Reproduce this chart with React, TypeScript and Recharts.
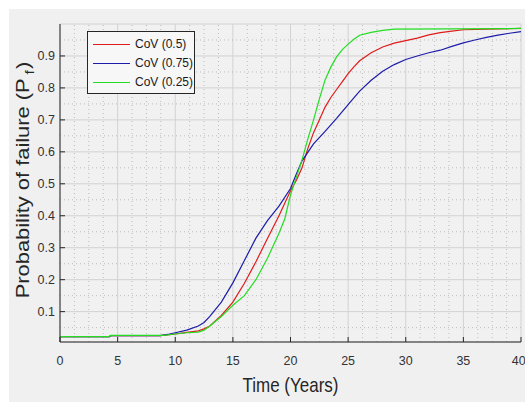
import React from 'react';
import { LineChart, Line, XAxis, YAxis, CartesianGrid, ReferenceLine, Legend } from 'recharts';

// Time (years) and probability of failure for each CoV series
const timeRed = [0, 4.3, 4.4, 8.7, 9.5, 10, 11, 12, 12.5, 13, 14, 15, 16, 17, 18, 19, 20, 20.5, 21, 21.5, 22, 22.5, 23, 23.5, 24, 24.5, 25, 25.5, 26, 27, 28, 29, 30, 31, 32, 33, 34, 35, 40];
const pfRed = [0.022, 0.022, 0.025, 0.025, 0.028, 0.03, 0.035, 0.04, 0.046, 0.055, 0.088, 0.13, 0.189, 0.256, 0.329, 0.4, 0.478, 0.51, 0.55, 0.61, 0.66, 0.7, 0.74, 0.77, 0.795, 0.82, 0.845, 0.866, 0.885, 0.91, 0.928, 0.94, 0.948, 0.956, 0.966, 0.973, 0.978, 0.982, 0.986];

const timeBlue = [0, 4.3, 4.4, 8.7, 9.5, 10, 11, 12, 12.5, 13, 14, 15, 16, 17, 18, 19, 20, 20.5, 21, 22, 23, 24, 25, 26, 27, 28, 29, 30, 31, 32, 33, 34, 35, 36, 37, 38, 39, 40];
const pfBlue = [0.022, 0.022, 0.025, 0.025, 0.03, 0.034, 0.042, 0.055, 0.066, 0.085, 0.13, 0.19, 0.26, 0.33, 0.385, 0.43, 0.485, 0.53, 0.572, 0.625, 0.664, 0.705, 0.748, 0.79, 0.824, 0.852, 0.873, 0.889, 0.9, 0.91, 0.918, 0.93, 0.941, 0.95, 0.958, 0.965, 0.971, 0.976];

const timeGreen = [0, 4.3, 4.4, 9, 10, 11, 12, 12.5, 13, 14, 15, 16, 17, 18, 19, 19.5, 20, 20.5, 21, 21.5, 22, 22.5, 23, 23.5, 24, 24.5, 25, 25.5, 26, 27, 28, 29, 40];
const pfGreen = [0.022, 0.022, 0.026, 0.026, 0.03, 0.034, 0.036, 0.042, 0.055, 0.085, 0.12, 0.15, 0.2, 0.267, 0.345, 0.39, 0.465, 0.52, 0.575, 0.64, 0.7, 0.765, 0.825, 0.865, 0.897, 0.92, 0.937, 0.952, 0.965, 0.974, 0.98, 0.984, 0.986];

const seriesNames = ['CoV (0.5)', 'CoV (0.75)', 'CoV (0.25)'];
const seriesColors = ['#e01b1b', '#1c1caa', '#22dd22'];

const xTicks = [0, 5, 10, 15, 20, 25, 30, 35, 40];
const yTicks = [0.1, 0.2, 0.3, 0.4, 0.5, 0.6, 0.7, 0.8, 0.9];
const xMinor = [1.25, 2.5, 3.75, 6.25, 7.5, 8.75, 11.25, 12.5, 13.75, 16.25, 17.5, 18.75, 21.25, 22.5, 23.75, 26.25, 27.5, 28.75, 31.25, 32.5, 33.75, 36.25, 37.5, 38.75];
const yMinor = [0.05, 0.15, 0.25, 0.35, 0.45, 0.55, 0.65, 0.75, 0.85, 0.95];

const toRows = (t: number[], v: number[]) => t.map((x, i) => ({ t: x, pf: v[i] }));
const rowsRed = toRows(timeRed, pfRed);
const rowsBlue = toRows(timeBlue, pfBlue);
const rowsGreen = toRows(timeGreen, pfGreen);

const FONT = 'Liberation Sans, Arial, Helvetica, sans-serif';
const AXIS = '#262626';

const YTitle = (props: any) => {
  const vb = props.viewBox || { x: 0, y: 15, width: 51, height: 318 };
  const cx = 20;
  const cy = vb.y + vb.height / 2 - 3;
  return (
    <g transform={`translate(${cx}, ${cy}) rotate(-90) scale(1.25, 1)`}>
      <text x={0} y={0} textAnchor="middle" fontFamily={FONT} fontSize={17.5} fill={AXIS}>
        Probability of failure (P
        <tspan fontSize={12.5} dx={3} dy={5}>f</tspan>
        <tspan dx={1} dy={-5}>)</tspan>
      </text>
    </g>
  );
};

const XTitle = (props: any) => {
  const vb = props.viewBox || { x: 51, y: 333, width: 461, height: 60 };
  const cx = vb.x + vb.width / 2;
  const cy = 382.5;
  return (
    <g transform={`translate(${cx}, ${cy}) scale(1, 1.22)`}>
      <text x={0} y={0} textAnchor="middle" fontFamily={FONT} fontSize={17} fill={AXIS}>
        Time (Years)
      </text>
    </g>
  );
};

const LegendBox = () => (
  <div
    style={{
      width: 108,
      height: 63,
      boxSizing: 'border-box',
      border: '1px solid #262626',
      background: '#f7f7f7',
      paddingTop: 3,
      fontFamily: FONT,
      fontSize: 12,
      color: '#1a1a1a',
    }}
  >
    {seriesNames.map((name, i) => (
      <div key={name} style={{ display: 'flex', alignItems: 'center', height: 19 }}>
        <svg width={46} height={19} style={{ display: 'block' }}>
          <line x1={5} x2={42} y1={9.5} y2={9.5} stroke={seriesColors[i]} strokeWidth={1.2} />
        </svg>
        <span style={{ marginLeft: 1, lineHeight: '19px' }}>{name}</span>
      </div>
    ))}
  </div>
);

export default function App() {
  return (
    <div style={{ position: 'absolute', left: 9, top: 9, width: 516, height: 393, background: '#f0f0f0' }}>
      <LineChart width={516} height={393} margin={{ top: 15, right: 4, bottom: 0, left: 0 }}>
        <CartesianGrid stroke="#d2d2d2" strokeWidth={1} fill="#f1f1f1" />
        {xMinor.map((v) => (
          <ReferenceLine key={'xm' + v} x={v} stroke="#bcbcbc" strokeDasharray="1 3" strokeWidth={1} />
        ))}
        {yMinor.map((v) => (
          <ReferenceLine key={'ym' + v} y={v} stroke="#bcbcbc" strokeDasharray="1 3" strokeWidth={1} />
        ))}
        <XAxis
          dataKey="t"
          type="number"
          domain={[0, 40]}
          ticks={xTicks}
          allowDataOverflow
          height={60}
          tickSize={-5}
          tickMargin={19}
          stroke={AXIS}
          tick={{ fill: '#333', fontSize: 12.5, fontFamily: FONT }}
          label={<XTitle />}
        />
        <XAxis
          xAxisId="top"
          orientation="top"
          type="number"
          domain={[0, 40]}
          ticks={xTicks}
          allowDataOverflow
          height={0}
          tickSize={-5}
          tick={false}
          stroke={AXIS}
        />
        <YAxis
          type="number"
          domain={[0.005, 1.0]}
          ticks={yTicks}
          allowDataOverflow
          width={51}
          tickSize={-5}
          tickMargin={10}
          stroke={AXIS}
          tick={{ fill: '#333', fontSize: 12.5, fontFamily: FONT }}
          label={<YTitle />}
        />
        <YAxis
          yAxisId="right"
          orientation="right"
          type="number"
          domain={[0.005, 1.0]}
          ticks={yTicks}
          allowDataOverflow
          width={0}
          tickSize={-5}
          tick={false}
          stroke={AXIS}
        />
        <Legend
          layout="horizontal"
          verticalAlign="middle"
          align="center"
          wrapperStyle={{ left: 78, top: 22, width: 108, height: 63 }}
          content={() => <LegendBox />}
        />
        <Line data={rowsRed} dataKey="pf" name={seriesNames[0]} stroke={seriesColors[0]} strokeWidth={1.2} dot={false} type="linear" isAnimationActive={false} />
        <Line data={rowsBlue} dataKey="pf" name={seriesNames[1]} stroke={seriesColors[1]} strokeWidth={1.2} dot={false} type="linear" isAnimationActive={false} />
        <Line data={rowsGreen} dataKey="pf" name={seriesNames[2]} stroke={seriesColors[2]} strokeWidth={1.2} dot={false} type="linear" isAnimationActive={false} />
      </LineChart>
    </div>
  );
}
